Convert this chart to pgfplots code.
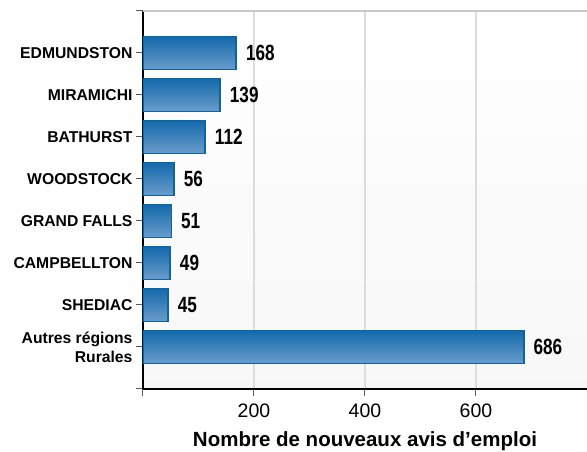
\documentclass[border=0pt]{standalone}
\usepackage{pgfplots}
\pgfplotsset{compat=1.18}
\usepackage{fontspec}
\setmainfont{Liberation Sans}
\newfontfamily\narrowfont[FakeStretch=0.78]{Liberation Sans}
\definecolor{barEdge}{HTML}{0A64A8}
\definecolor{barTop}{HTML}{136AAB}
\definecolor{barBot}{HTML}{6B9CCC}
\definecolor{gridc}{HTML}{DCDCDC}
\definecolor{topline}{HTML}{C8C8C8}
\pgfplotsset{
  mybar/.style={xbar, bar width=33pt, bar shift=0pt, draw=barEdge, line width=1.6pt,
    top color=barTop, bottom color=barBot, forget plot,
    nodes near coords,
    nodes near coords style={anchor=west, inner sep=0pt, xshift=9pt, text=black,
      font=\narrowfont\bfseries\fontsize{22}{22}\selectfont,
      /pgf/number format/assume math mode=true}},
}
\begin{document}
\begin{tikzpicture}
\begin{axis}[
  at={(0pt,0pt)}, anchor=south west,
  scale only axis, width=444pt, height=378pt,
  xmin=0, xmax=800, ymin=0, ymax=9,
  enlargelimits=false,
  axis x line*=bottom, axis y line*=left,
  axis line style={black, line width=2pt},
  axis background/.style={top color=white, bottom color=white!97!black},
  tick align=outside,
  major tick length=7pt,
  tick style={color=gray!70!black, line width=1pt},
  xtick={0,200,400,600},
  xticklabels={,200,400,600},
  ytick={0,1,2,3,4,5,6,7,8,9},
  yticklabels={,{Autres régions\\Rurales},SHEDIAC,CAMPBELLTON,GRAND FALLS,WOODSTOCK,BATHURST,MIRAMICHI,EDMUNDSTON,},
  yticklabel style={align=right, font=\bfseries\fontsize{15.7}{19}\selectfont},
  xticklabel style={font=\fontsize{19.5}{20}\selectfont, yshift=-4pt},
  /pgf/number format/assume math mode=true,
  xmajorgrids,
  major grid style={gridc, line width=2pt},
  xlabel={Nombre de nouveaux avis d’emploi},
  xlabel style={at={(axis description cs:0.5,0)}, anchor=base, yshift=-58pt, inner sep=0pt, font=\bfseries\fontsize{20.5}{22}\selectfont},
]
\addplot[mybar] coordinates {(686,1)};
\addplot[mybar] coordinates {(45,2)};
\addplot[mybar] coordinates {(49,3)};
\addplot[mybar] coordinates {(51,4)};
\addplot[mybar] coordinates {(56,5)};
\addplot[mybar] coordinates {(112,6)};
\addplot[mybar] coordinates {(139,7)};
\addplot[mybar] coordinates {(168,8)};
\draw[topline, line width=2pt] (axis cs:0,9) ++(-8pt,0) -- (axis cs:800,9);
\end{axis}
\pgfresetboundingbox
\path (-143pt,-63pt) rectangle (444pt,389pt);
\end{tikzpicture}
\end{document}
